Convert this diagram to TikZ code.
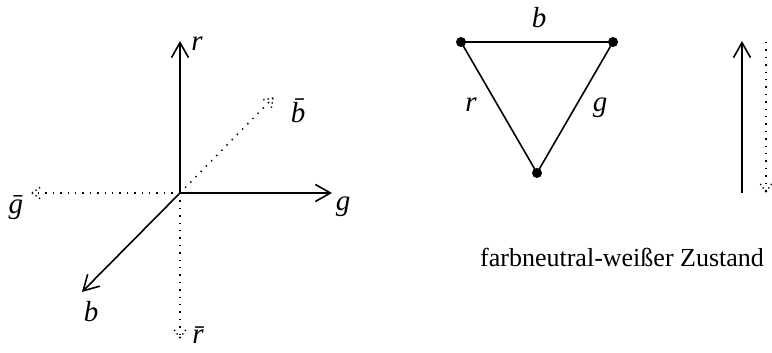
\documentclass[tikz,border=0pt]{standalone}
\usepackage{fontspec}
\setmainfont{Liberation Serif}
\usetikzlibrary{arrows.meta,calc}
\begin{document}
\begin{tikzpicture}[x=1pt,y=-1pt,
  lbl/.style={inner sep=0pt,font=\fontsize{29}{33}\selectfont\itshape},
  solidarrow/.style={line width=1.6pt,-{Straight Barb[length=15pt,width=17pt,line width=1.6pt]}},
  dotline/.style={line width=1.5pt,dash pattern=on 1.4pt off 6pt},
  dotbarb/.style={line width=1.4pt,dash pattern=on 1.3pt off 3pt},
  edge/.style={line width=1.6pt},
  vert/.style={circle,fill=black,inner sep=0pt,minimum size=10pt}]
\useasboundingbox (0,0) rectangle (772,353);
% left figure
\coordinate (O) at (180,193);
\coordinate (tr) at (180,41);
\coordinate (tg) at (332,193);
\coordinate (tb) at (82,292);
\coordinate (tbb) at (273,98);
\coordinate (tgb) at (32,193);
\coordinate (trb) at (180,338);
\draw[solidarrow] (O) -- (tr);
\draw[solidarrow] (O) -- (tg);
\draw[solidarrow] (O) -- (tb);
\foreach \t in {tbb,tgb,trb}{
  \draw[dotline] (O) -- (\t);
  \draw[dotbarb] (\t) -- ($(\t)!12pt!35:(O)$);
  \draw[dotbarb] (\t) -- ($(\t)!12pt!-35:(O)$);
}
\node[lbl] (lr) at (197,44) {r};
\node[lbl] (lg) at (343,207) {g};
\node[lbl] (lb) at (91,312) {b};
\node[lbl] (lbb) at (298,111) {\=b};
\node[lbl] (lgb) at (16,208) {\=g};
\node[lbl] (lrb) at (198,335) {\=r};
% triangle
\node[vert] (A) at (461,42) {};
\node[vert] (B) at (613,42) {};
\node[vert] (C) at (537,173) {};
\draw[edge] (A.center) -- (B.center) -- (C.center) -- cycle;
\node[lbl] (tlb) at (539,18) {b};
\node[lbl] (tlr) at (471,105) {r};
\node[lbl] (tlg) at (600,108) {g};
% right arrows
\coordinate (s1) at (742,193);
\coordinate (s2) at (742,41);
\draw[solidarrow] (s1) -- (s2);
\coordinate (d1) at (766,42);
\coordinate (d2) at (766,192);
\draw[dotline] (d1) -- (d2);
\draw[dotbarb] (d2) -- ($(d2)!12pt!35:(d1)$);
\draw[dotbarb] (d2) -- ($(d2)!12pt!-35:(d1)$);
% caption
\node[inner sep=0pt,anchor=base west,font=\fontsize{26}{30}\selectfont] (cap) at (480,266) {farbneutral-weißer Zustand};
\end{tikzpicture}
\end{document}
